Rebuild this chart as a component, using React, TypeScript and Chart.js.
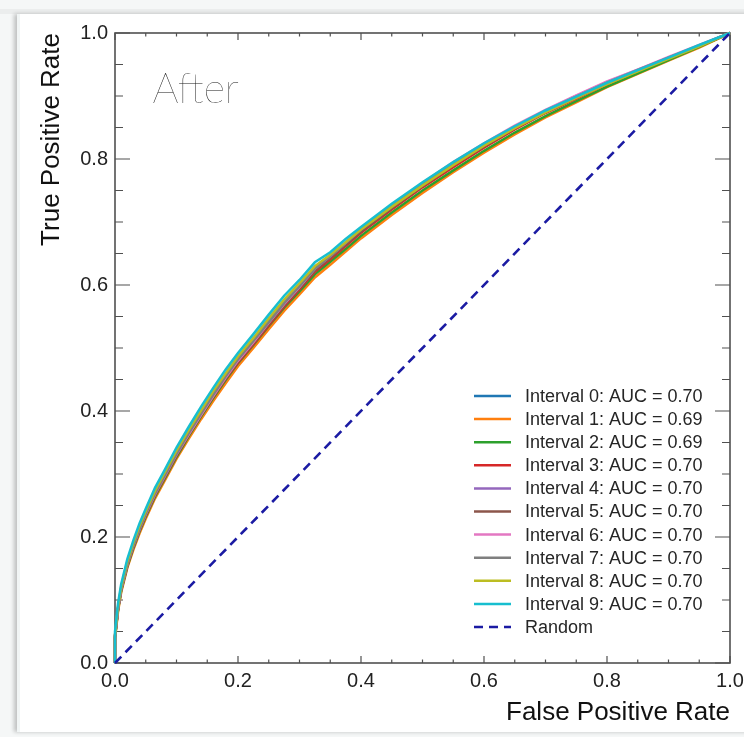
import React, { useEffect, useRef } from "react";
import { Chart, registerables } from "chart.js";

Chart.register(...registerables);

// False positive rate grid (shared by all intervals)
const fpr = [0, 0, 0.005, 0.01, 0.02, 0.03, 0.04, 0.05, 0.065, 0.08, 0.1, 0.12, 0.14, 0.16, 0.18, 0.2, 0.225, 0.25, 0.275, 0.3, 0.325, 0.35, 0.375, 0.4, 0.45, 0.5, 0.55, 0.6, 0.65, 0.7, 0.75, 0.8, 0.85, 0.9, 0.95, 1];

// True positive rates per interval
const tpr0 = [0, 0.042, 0.088, 0.118, 0.158, 0.188, 0.214, 0.238, 0.27, 0.297, 0.333, 0.366, 0.397, 0.428, 0.456, 0.483, 0.512, 0.542, 0.572, 0.598, 0.625, 0.644, 0.665, 0.686, 0.723, 0.757, 0.789, 0.82, 0.848, 0.874, 0.897, 0.92, 0.94, 0.96, 0.979, 1];
const tpr1 = [0, 0.038, 0.082, 0.112, 0.151, 0.18, 0.206, 0.229, 0.261, 0.288, 0.324, 0.356, 0.387, 0.416, 0.444, 0.471, 0.5, 0.53, 0.559, 0.585, 0.612, 0.632, 0.653, 0.674, 0.711, 0.746, 0.779, 0.81, 0.839, 0.866, 0.89, 0.914, 0.935, 0.956, 0.977, 1];
const tpr2 = [0, 0.04, 0.085, 0.114, 0.153, 0.183, 0.209, 0.232, 0.264, 0.291, 0.327, 0.36, 0.391, 0.421, 0.449, 0.476, 0.505, 0.535, 0.564, 0.59, 0.617, 0.637, 0.657, 0.678, 0.715, 0.75, 0.782, 0.813, 0.842, 0.868, 0.892, 0.915, 0.936, 0.957, 0.978, 1];
const tpr3 = [0, 0.041, 0.086, 0.116, 0.155, 0.185, 0.211, 0.234, 0.266, 0.293, 0.329, 0.362, 0.393, 0.423, 0.451, 0.477, 0.506, 0.536, 0.566, 0.593, 0.621, 0.641, 0.662, 0.683, 0.72, 0.755, 0.787, 0.818, 0.847, 0.873, 0.896, 0.919, 0.94, 0.96, 0.98, 1];
const tpr4 = [0, 0.043, 0.087, 0.117, 0.156, 0.186, 0.212, 0.236, 0.268, 0.295, 0.331, 0.364, 0.395, 0.425, 0.454, 0.48, 0.51, 0.54, 0.57, 0.597, 0.625, 0.645, 0.666, 0.687, 0.725, 0.76, 0.793, 0.823, 0.851, 0.877, 0.9, 0.922, 0.942, 0.961, 0.98, 1];
const tpr5 = [0, 0.042, 0.086, 0.117, 0.156, 0.185, 0.211, 0.235, 0.267, 0.294, 0.33, 0.363, 0.394, 0.424, 0.452, 0.479, 0.508, 0.538, 0.568, 0.595, 0.623, 0.643, 0.664, 0.685, 0.722, 0.757, 0.79, 0.82, 0.849, 0.875, 0.898, 0.92, 0.941, 0.96, 0.98, 1];
const tpr6 = [0, 0.044, 0.088, 0.118, 0.157, 0.187, 0.213, 0.236, 0.268, 0.295, 0.331, 0.363, 0.394, 0.424, 0.453, 0.48, 0.509, 0.54, 0.57, 0.597, 0.626, 0.646, 0.667, 0.689, 0.727, 0.762, 0.795, 0.825, 0.853, 0.878, 0.901, 0.923, 0.942, 0.962, 0.981, 1];
const tpr7 = [0, 0.043, 0.087, 0.118, 0.157, 0.187, 0.213, 0.237, 0.269, 0.296, 0.332, 0.365, 0.396, 0.426, 0.455, 0.482, 0.511, 0.541, 0.571, 0.598, 0.626, 0.646, 0.667, 0.688, 0.725, 0.76, 0.792, 0.822, 0.85, 0.876, 0.899, 0.921, 0.941, 0.961, 0.98, 1];
const tpr8 = [0, 0.045, 0.09, 0.121, 0.161, 0.191, 0.218, 0.241, 0.273, 0.301, 0.337, 0.37, 0.401, 0.432, 0.46, 0.487, 0.516, 0.547, 0.577, 0.603, 0.63, 0.648, 0.668, 0.688, 0.724, 0.758, 0.79, 0.821, 0.849, 0.874, 0.897, 0.919, 0.939, 0.959, 0.979, 1];
const tpr9 = [0, 0.05, 0.095, 0.125, 0.165, 0.195, 0.222, 0.245, 0.278, 0.305, 0.342, 0.375, 0.407, 0.437, 0.466, 0.492, 0.522, 0.553, 0.583, 0.608, 0.636, 0.652, 0.673, 0.692, 0.729, 0.763, 0.795, 0.825, 0.852, 0.877, 0.899, 0.921, 0.941, 0.961, 0.981, 1];

const tprSeries = [tpr0, tpr1, tpr2, tpr3, tpr4, tpr5, tpr6, tpr7, tpr8, tpr9];
const intervalLabels = [
  "Interval 0: AUC = 0.70",
  "Interval 1: AUC = 0.69",
  "Interval 2: AUC = 0.69",
  "Interval 3: AUC = 0.70",
  "Interval 4: AUC = 0.70",
  "Interval 5: AUC = 0.70",
  "Interval 6: AUC = 0.70",
  "Interval 7: AUC = 0.70",
  "Interval 8: AUC = 0.70",
  "Interval 9: AUC = 0.70",
];
const intervalColors = ["#1f77b4", "#ff7f0e", "#2ca02c", "#d62728", "#9467bd", "#8c564b", "#e377c2", "#7f7f7f", "#bcbd22", "#17becf"];

const randomX = [0, 1];
const randomY = [0, 1];
const randomLabel = "Random";
const randomColor = "#1b1ba3";

const majorTicks = [0, 0.2, 0.4, 0.6, 0.8, 1.0];
const minorTicks = [0.05, 0.1, 0.15, 0.25, 0.3, 0.35, 0.45, 0.5, 0.55, 0.65, 0.7, 0.75, 0.85, 0.9, 0.95];

const xTitle = "False Positive Rate";
const yTitle = "True Positive Rate";
const panelText = "After";

const FONT = "'Liberation Sans', Arial, Helvetica, sans-serif";

const decorPlugin = {
  id: "decor",
  beforeDatasetsDraw(chart: any) {
    const { ctx, chartArea, scales } = chart;
    const { left, right, top, bottom } = chartArea;
    const xs = scales.x;
    const ys = scales.y;
    ctx.save();
    ctx.strokeStyle = "#505050";
    ctx.lineWidth = 1.6;
    ctx.strokeRect(left, top, right - left, bottom - top);
    ctx.lineWidth = 1.2;
    const drawX = (v: number, len: number) => {
      const px = xs.getPixelForValue(v);
      ctx.beginPath();
      ctx.moveTo(px, bottom);
      ctx.lineTo(px, bottom - len);
      ctx.moveTo(px, top);
      ctx.lineTo(px, top + len);
      ctx.stroke();
    };
    const drawY = (v: number, len: number) => {
      const py = ys.getPixelForValue(v);
      ctx.beginPath();
      ctx.moveTo(left, py);
      ctx.lineTo(left + len, py);
      ctx.moveTo(right, py);
      ctx.lineTo(right - len, py);
      ctx.stroke();
    };
    majorTicks.forEach((v) => { drawX(v, 7); drawY(v, 15); });
    minorTicks.forEach((v) => { drawX(v, 3.5); drawY(v, 8); });
    ctx.restore();
  },
  afterDraw(chart: any) {
    const { ctx, chartArea, scales } = chart;
    const xs = scales.x;
    const ys = scales.y;
    ctx.save();
    // panel label
    ctx.fillStyle = "#111";
    ctx.font = "200 41px Lato, 'Liberation Sans', sans-serif";
    ctx.textAlign = "left";
    ctx.textBaseline = "alphabetic";
    ctx.fillText(panelText, xs.getPixelForValue(0.061), ys.getPixelForValue(0.889));

    // legend (lower right, inside axes)
    const datasets = chart.data.datasets;
    const rowH = 23.1;
    const n = datasets.length;
    const lineX0 = chartArea.right - 256;
    const lineX1 = chartArea.right - 219;
    const textX = chartArea.right - 205;
    const lastY = chartArea.bottom - 36;
    ctx.font = `18px ${FONT}`;
    ctx.textBaseline = "middle";
    datasets.forEach((ds: any, i: number) => {
      const y = lastY - (n - 1 - i) * rowH;
      ctx.beginPath();
      ctx.strokeStyle = ds.borderColor;
      ctx.lineWidth = 2.5;
      ctx.setLineDash(ds.borderDash || []);
      ctx.moveTo(lineX0, y);
      ctx.lineTo(lineX1, y);
      ctx.stroke();
      ctx.setLineDash([]);
      ctx.fillStyle = "#262626";
      ctx.fillText(ds.label, textX, y + 1);
    });
    ctx.restore();
  },
};

export default function App() {
  const ref = useRef<HTMLCanvasElement>(null);
  useEffect(() => {
    const canvas = ref.current;
    if (!canvas) return;
    const datasets: any[] = tprSeries.map((tpr, i) => ({
      label: intervalLabels[i],
      data: fpr.map((x, j) => ({ x, y: tpr[j] })),
      borderColor: intervalColors[i],
      backgroundColor: intervalColors[i],
      borderWidth: 2.5,
      pointRadius: 0,
      tension: 0,
      fill: false,
      clip: false,
      order: 10 - i,
    }));
    datasets.push({
      label: randomLabel,
      data: randomX.map((x, j) => ({ x, y: randomY[j] })),
      borderColor: randomColor,
      backgroundColor: randomColor,
      borderWidth: 2.6,
      borderDash: [9, 6],
      pointRadius: 0,
      fill: false,
      clip: false,
      order: 0,
    });
    const tickFont = { family: FONT, size: 20 };
    const chart = new Chart(canvas, {
      type: "line",
      data: { datasets },
      options: {
        animation: false,
        responsive: false,
        devicePixelRatio: 1,
        layout: { padding: { left: 0, top: 33, right: 14, bottom: 0 } },
        plugins: { legend: { display: false }, tooltip: { enabled: false } },
        scales: {
          x: {
            type: "linear",
            min: 0,
            max: 1,
            grid: { display: false, drawTicks: false },
            border: { display: false },
            afterFit: (s: any) => { s.height = 74; s.paddingLeft = 0; s.paddingRight = 0; },
            afterBuildTicks: (s: any) => { s.ticks = majorTicks.map((v) => ({ value: v })); },
            ticks: {
              font: tickFont,
              color: "#222",
              padding: 6,
              maxRotation: 0,
              autoSkip: false,
              callback: (v: any) => Number(v).toFixed(1),
            },
            title: {
              display: true,
              text: xTitle,
              align: "end",
              color: "#111",
              font: { family: FONT, size: 26 },
              padding: { top: 0, bottom: 9 },
            },
          },
          y: {
            type: "linear",
            min: 0,
            max: 1,
            grid: { display: false, drawTicks: false },
            border: { display: false },
            afterFit: (s: any) => { s.width = 115; s.paddingTop = 0; s.paddingBottom = 0; },
            afterBuildTicks: (s: any) => { s.ticks = majorTicks.map((v) => ({ value: v })); },
            ticks: {
              font: tickFont,
              color: "#222",
              padding: 7,
              autoSkip: false,
              callback: (v: any) => Number(v).toFixed(1),
            },
            title: {
              display: true,
              text: yTitle,
              align: "end",
              color: "#111",
              font: { family: FONT, size: 26 },
              padding: { top: 36, bottom: 0 },
            },
          },
        },
      },
      plugins: [decorPlugin],
    } as any);
    return () => chart.destroy();
  }, []);

  return (
    <div style={{ position: "fixed", left: 0, top: 0, width: 744, height: 737, background: "#f5f7f7", overflow: "hidden" }}>
      <div style={{ position: "absolute", left: 0, top: 9, width: 744, height: 5, background: "#ebeded" }} />
      <div
        style={{
          position: "absolute",
          left: 17,
          top: 14,
          width: 760,
          height: 718,
          background: "#ffffff",
          boxShadow: "-3px 0 4px rgba(0,0,0,0.22)",
          borderLeft: "3px solid #f1f5f5",
          boxSizing: "border-box",
        }}
      />
      <canvas ref={ref} width={744} height={737} style={{ position: "absolute", left: 0, top: 0, width: 744, height: 737 }} />
    </div>
  );
}
